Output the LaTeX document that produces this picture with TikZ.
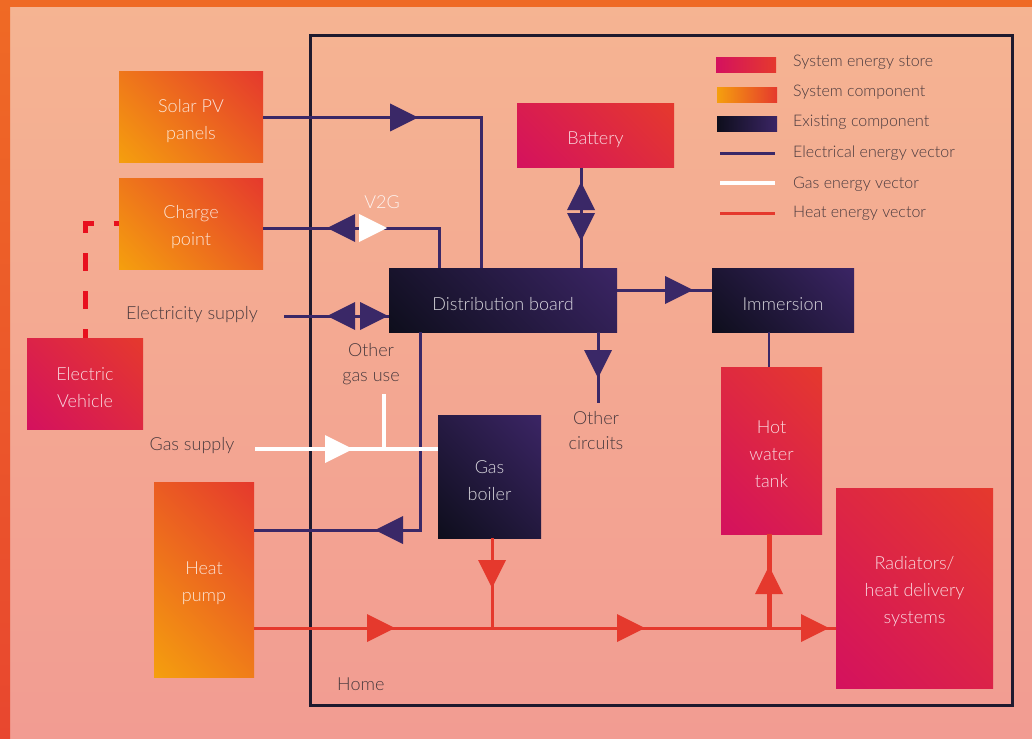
\documentclass[tikz,border=0pt]{standalone}
\usepackage{fontspec}
\setmainfont{Lato Light}
\usetikzlibrary{calc}
\definecolor{bgtop}{HTML}{F5B492}
\definecolor{bgbot}{HTML}{F29C92}
\definecolor{frameA}{HTML}{EF6A25}
\definecolor{frameB}{HTML}{E8472F}
\definecolor{elec}{HTML}{3A2867}
\definecolor{heat}{HTML}{E5392D}
\definecolor{homec}{HTML}{1E1A2E}
\definecolor{txt}{HTML}{4A3A3E}
\definecolor{orA}{HTML}{F59F0E}
\definecolor{orB}{HTML}{E5392D}
\definecolor{mgA}{HTML}{D4115E}
\definecolor{mgB}{HTML}{E5392D}
\definecolor{dkA}{HTML}{0E0E1C}
\definecolor{dkB}{HTML}{3B2565}
\definecolor{evred}{HTML}{E8101E}
\colorlet{gradA}{orA}
\colorlet{gradB}{orB}
\pgfdeclareverticalshading[gradA,gradB]{gradsh}{100bp}{color(0bp)=(gradA); color(37.5bp)=(gradA); color(62.5bp)=(gradB); color(100bp)=(gradB)}
\newcommand\tri[4]{\fill[#1,shift={(#2,#3)},rotate=#4] (0,0) -- (-28,-14) -- (-28,14) -- cycle;}
\newcommand\boxstrut{\rule{0pt}{21pt}}
\tikzset{
  box/.style={rectangle, inner sep=0pt, align=center, text=white, text opacity=0.82,
    font=\fontsize{18}{27}\selectfont},
  grad/.style 2 args={box, path picture={
    \colorlet{gradA}{#1}\colorlet{gradB}{#2}%
    \shade[shading=gradsh, shading angle=-45]
      let \p1=(path picture bounding box.south west),
          \p2=(path picture bounding box.north east),
          \n1={(\x2-\x1+\y2-\y1)/2.8284}
      in ($(\p1)!0.5!(\p2)$) ++({-2*\n1},{-2*\n1}) rectangle ++({4*\n1},{4*\n1});
  }},
  comp/.style={grad={orA}{orB}},
  store/.style={grad={mgA}{mgB}},
  exist/.style={grad={dkA}{dkB}},
  lbl/.style={inner sep=0pt, align=center, text=txt, font=\fontsize{18}{25}\selectfont},
  leg/.style={inner sep=0pt, anchor=west, text=txt, font=\fontsize{16}{18}\selectfont},
  eline/.style={draw=elec, line width=3},
  gline/.style={draw=white, line width=3.5},
  hline/.style={draw=heat, line width=3},
  hthick/.style={draw=heat, line width=5},
}
\begin{document}
\begin{tikzpicture}[x=1pt, y=-1pt]
\useasboundingbox (0,0) rectangle (1032,738);
% background and frame
\shade[top color=bgtop, bottom color=bgbot] (0,0) rectangle (1032,738);
\fill[frameA] (0,0) rectangle (1032,7);
\shade[top color=frameA, bottom color=frameB] (0,0) rectangle (10,738);

% home
\node[draw=homec, line width=3, minimum width=702, minimum height=669, inner sep=0pt] (home) at (661,370.5) {};
\node[lbl, anchor=west] (homelbl) at (337,684) {Home};

% boxes
\node[comp, minimum width=144, minimum height=91] (solar) at (191,117.5) {\boxstrut Solar PV\\panels};
\node[comp, minimum width=144, minimum height=91] (cp) at (191,223.5) {\boxstrut Charge\\point};
\node[store, minimum width=116, minimum height=91] (ev) at (85,383.5) {\boxstrut Electric\\Vehicle};
\node[exist, minimum width=228, minimum height=64] (db) at (503,300) {\boxstrut Distribution board};
\node[store, minimum width=157, minimum height=64] (bat) at (595.5,136) {\boxstrut Battery};
\node[exist, minimum width=142, minimum height=64] (imm) at (783,300) {\boxstrut Immersion};
\node[exist, minimum width=103, minimum height=123] (boiler) at (489.5,476.5) {\boxstrut Gas\\boiler};
\node[comp, minimum width=100, minimum height=195] (hp) at (204,579.5) {\boxstrut Heat\\pump};
\node[store, minimum width=101, minimum height=167] (hwt) at (771.5,450.5) {\boxstrut Hot\\water\\tank};
\node[store, minimum width=157, minimum height=200] (rad) at (914.5,588) {\boxstrut Radiators/\\heat delivery\\systems};

% labels
\node[lbl] (esup) at (192,315) {Electricity supply};
\node[lbl] (gsup) at (192,446) {Gas supply};
\node[lbl] (ogu) at (371,364) {Other\\gas use};
\node[lbl] (oc) at (596,431) {Other\\circuits};
\node[lbl, text=white, text opacity=0.85] (v2g) at (382,202) {V2G};

% coordinates
\coordinate (solc) at (481,117.5);
\coordinate (v2gc) at (439,228);
\coordinate (esupend) at (284,316);
\coordinate (batc) at (581,168);
\coordinate (dbimm) at (617,290);
\coordinate (occ) at (598,403);
\coordinate (dbhp) at (420,530);
\coordinate (gstart) at (255,449);
\coordinate (ogtop) at (384,394);
\coordinate (hl) at (300,628);
\coordinate (bheat) at (492,628);
\coordinate (hwheat) at (769,628);

% EV dashed link
\draw[evred, line width=5, dash pattern=on 18pt off 20pt, dash phase=9pt] (ev.north) |- (cp.west);

% electrical
\draw[eline] (solar.east) -- (solc) -- (solc |- db.north);
\draw[eline] (cp.east |- v2gc) -- (v2gc) -- (v2gc |- db.north);
\draw[eline] (esupend) -- (esupend -| db.west);
\draw[eline] (batc) -- (batc |- db.north);
\draw[eline] (dbimm) -- (dbimm -| imm.west);
\draw[eline] (occ |- db.south) -- (occ);
\draw[eline] (dbhp |- db.south) -- (dbhp) -- (dbhp -| hp.east);
\draw[eline, line width=2.5] (hwheat |- imm.south) -- (hwheat |- hwt.north);

% gas
\draw[gline] (gstart) -- (gstart -| boiler.west);
\draw[gline] (ogtop) -- (ogtop |- gstart);

% heat
\draw[hline] (hp.east |- hl) -- (hl -| rad.west);
\draw[hline] (bheat |- boiler.south) -- (bheat);
\draw[hthick] (hwheat) -- (hwheat |- hwt.south);

% arrowheads
\tri{elec}{418}{117.5}{0}
\tri{elec}{327}{228}{180}
\tri{white}{387}{228}{0}
\tri{elec}{327}{316}{180}
\tri{elec}{388}{316}{0}
\tri{elec}{581}{182}{90}
\tri{elec}{581}{241}{-90}
\tri{elec}{693}{290}{0}
\tri{elec}{598}{378}{-90}
\tri{elec}{375}{530}{180}
\tri{white}{353}{449}{0}
\tri{heat}{395}{628}{0}
\tri{heat}{645}{628}{0}
\tri{heat}{829}{628}{0}
\tri{heat}{492}{588}{-90}
\tri{heat}{769}{566}{90}

% legend
\shade[left color=mgA, right color=mgB] (716,58) rectangle (776,73);
\shade[left color=orA, right color=orB] (717,88) rectangle (777,103);
\shade[left color=dkA, right color=dkB] (717,117) rectangle (777,132);
\draw[eline] (720,154) -- (775,154);
\draw[gline] (720,183) -- (775,183);
\draw[hline] (720,213) -- (775,213);
\node[leg] (l1) at (793,62) {System energy store};
\node[leg] (l2) at (793,92) {System component};
\node[leg] (l3) at (793,122) {Existing component};
\node[leg] (l4) at (793,153) {Electrical energy vector};
\node[leg] (l5) at (793,184) {Gas energy vector};
\node[leg] (l6) at (793,213) {Heat energy vector};
\end{tikzpicture}
\end{document}
